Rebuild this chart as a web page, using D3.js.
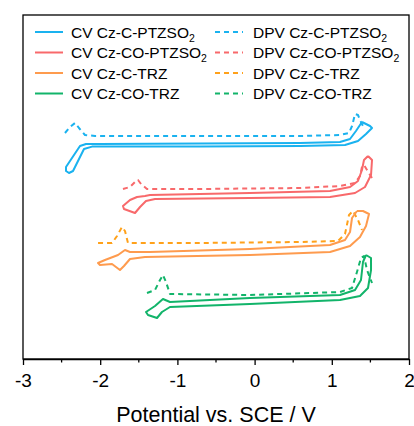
<!DOCTYPE html>
<html>
<head>
<meta charset="utf-8">
<script src="https://cdn.jsdelivr.net/npm/d3@7"></script>
<style>
  html, body { margin: 0; padding: 0; background: #fff; }
  svg { display: block; font-family: "Liberation Sans", Arial, sans-serif; }
</style>
</head>
<body>
<div id="chart"></div>
<script>
// potential (V vs SCE) / offset current (a.u.) pairs
const cvCzCPTZSO2 = [
  [1.391, 59.25], [1.313, 57.0], [1.236, 55.0], [1.106, 54.25], [0.588, 54.0], [-0.707, 53.9],
  [-2.003, 53.75], [-2.184, 53.75], [-2.262, 53.25], [-2.443, 48.0], [-2.443, 47.0], [-2.404, 46.5],
  [-2.352, 47.0], [-2.21, 52.5], [-2.106, 53.1], [-0.707, 53.1], [0.588, 53.25], [1.171, 53.5],
  [1.339, 54.5], [1.443, 56.25], [1.521, 57.75], [1.495, 58.25], [1.391, 59.25]
];
const dpvCzCPTZSO2 = [
  [-2.456, 56.5], [-2.391, 58.0], [-2.326, 59.0], [-2.275, 57.75], [-2.197, 56.0], [-2.067, 55.75],
  [-0.707, 55.75], [0.588, 55.75], [1.106, 56.0], [1.223, 56.5], [1.262, 58.25], [1.301, 61.25],
  [1.339, 61.0], [1.378, 59.25], [1.417, 57.75]
];
const cvCzCOPTZSO2 = [
  [1.469, 50.75], [1.417, 49.75], [1.391, 47.25], [1.339, 44.5], [1.236, 43.0], [0.977, 42.0],
  [-0.06, 41.5], [-1.355, 41.0], [-1.42, 40.75], [-1.523, 40.5], [-1.614, 39.75], [-1.705, 38.25],
  [-1.692, 37.5], [-1.549, 36.5], [-1.484, 38.0], [-1.407, 39.5], [-1.29, 40.0], [-0.06, 40.25],
  [0.977, 40.5], [1.301, 41.5], [1.43, 43.0], [1.508, 46.0], [1.521, 49.75], [1.469, 50.75]
];
const dpvCzCOPTZSO2 = [
  [-1.705, 42.5], [-1.614, 43.0], [-1.549, 44.25], [-1.51, 44.75], [-1.471, 43.75], [-1.394, 42.5],
  [-0.707, 42.5], [0.588, 42.75], [1.106, 43.25], [1.301, 44.0], [1.365, 45.75], [1.391, 48.0],
  [1.417, 48.5], [1.456, 47.25], [1.521, 45.25]
];
const cvCzCTRZ = [
  [1.326, 37.0], [1.262, 35.25], [1.236, 31.75], [1.171, 29.75], [0.977, 28.5], [-0.06, 27.5],
  [-1.355, 26.75], [-1.614, 26.75], [-1.679, 27.25], [-1.769, 26.0], [-1.938, 24.75], [-2.028, 24.0],
  [-2.003, 23.5], [-1.847, 23.75], [-1.744, 22.25], [-1.692, 23.25], [-1.614, 25.0], [-1.42, 25.5],
  [-0.06, 26.0], [0.977, 26.75], [1.236, 28.25], [1.365, 30.5], [1.443, 33.25], [1.482, 36.25],
  [1.404, 37.0], [1.326, 37.0]
];
const dpvCzCTRZ = [
  [-2.028, 29.0], [-1.847, 29.0], [-1.782, 30.75], [-1.718, 33.0], [-1.679, 32.0], [-1.64, 29.0],
  [-0.707, 29.0], [0.588, 29.25], [1.08, 29.5], [1.171, 31.25], [1.223, 36.0], [1.275, 37.0],
  [1.339, 34.75], [1.391, 32.25]
];
const cvCzCOTRZ = [
  [1.443, 26.0], [1.404, 24.25], [1.378, 19.75], [1.301, 17.25], [1.106, 16.0], [-0.06, 15.25],
  [-1.096, 14.25], [-1.187, 15.0], [-1.29, 13.25], [-1.407, 11.75], [-1.381, 11.0], [-1.264, 10.25],
  [-1.2, 11.75], [-1.096, 13.0], [-0.06, 13.75], [1.106, 14.75], [1.365, 15.75], [1.469, 17.75],
  [1.508, 22.25], [1.508, 25.25], [1.443, 26.0]
];
const dpvCzCOTRZ = [
  [-1.394, 16.5], [-1.29, 17.25], [-1.225, 19.75], [-1.187, 21.0], [-1.148, 19.25], [-1.096, 16.25],
  [-0.06, 16.0], [1.106, 16.75], [1.262, 17.75], [1.326, 21.75], [1.378, 25.25], [1.417, 25.75],
  [1.456, 22.25], [1.521, 19.0]
];

const seriesNames = ["Cz-C-PTZSO2", "Cz-CO-PTZSO2", "Cz-C-TRZ", "Cz-CO-TRZ"];
const cvSeries = [cvCzCPTZSO2, cvCzCOPTZSO2, cvCzCTRZ, cvCzCOTRZ];
const dpvSeries = [dpvCzCPTZSO2, dpvCzCOPTZSO2, dpvCzCTRZ, dpvCzCOTRZ];
const cvColors = ["#1ab2ef", "#f8696b", "#fe9b4e", "#12b46a"];
const dpvColors = ["#1ab2ef", "#f8696b", "#ffa11a", "#12b46a"];

const xTicks = [-3, -2, -1, 0, 1, 2];
const xMinorTicks = [-2.5, -1.5, -0.5, 0.5, 1.5];

const width = 414, height = 426;
const margin = { top: 15, right: 5, bottom: 67, left: 23 };

const svg = d3.select("#chart").append("svg")
  .attr("width", width)
  .attr("height", height);

const x = d3.scaleLinear().domain([-3, 2]).range([margin.left, width - margin.right]);
const y = d3.scaleLinear().domain([0, 86]).range([height - margin.bottom, margin.top]);

const line = d3.line().x(d => x(d[0])).y(d => y(d[1]));

// curves
dpvSeries.forEach((s, i) => {
  svg.append("path")
    .attr("d", line(s))
    .attr("fill", "none")
    .attr("stroke", dpvColors[i])
    .attr("stroke-width", 2)
    .attr("stroke-linejoin", "round")
    .attr("stroke-dasharray", "5,4");
});
cvSeries.forEach((s, i) => {
  svg.append("path")
    .attr("d", line(s))
    .attr("fill", "none")
    .attr("stroke", cvColors[i])
    .attr("stroke-width", 2)
    .attr("stroke-linejoin", "round");
});

// frame
svg.append("rect")
  .attr("x", margin.left)
  .attr("y", margin.top)
  .attr("width", width - margin.left - margin.right)
  .attr("height", height - margin.top - margin.bottom)
  .attr("fill", "none")
  .attr("stroke", "#000")
  .attr("stroke-width", 1.3);

// x axis
const xAxis = svg.append("g")
  .attr("transform", `translate(0,${height - margin.bottom})`)
  .call(d3.axisBottom(x).tickValues(xTicks).tickSize(6).tickSizeOuter(0).tickPadding(9).tickFormat(d3.format("d")));
xAxis.select(".domain").attr("stroke-width", 1.3);
xAxis.selectAll(".tick line").attr("stroke-width", 1.3);
xAxis.selectAll(".tick text").attr("font-size", 19).attr("fill", "#000")
  .attr("font-family", "Liberation Sans, Arial, sans-serif")
  .text(d => d < 0 ? "-" + Math.abs(d) : d);

svg.append("g")
  .attr("transform", `translate(0,${height - margin.bottom})`)
  .selectAll("line")
  .data(xMinorTicks)
  .join("line")
  .attr("x1", d => x(d)).attr("x2", d => x(d))
  .attr("y1", 0).attr("y2", 3.5)
  .attr("stroke", "#000").attr("stroke-width", 1.3);

svg.append("text")
  .attr("x", (margin.left + width - margin.right) / 2)
  .attr("y", 422)
  .attr("text-anchor", "middle")
  .attr("font-size", 21.5)
  .attr("fill", "#000")
  .text("Potential vs. SCE / V");

// legend
const legend = svg.append("g").attr("font-size", 15.5).attr("fill", "#000");
const rowY = [32, 52.5, 73, 93.5];
const cols = [
  { lx: 35, tx: 71, prefix: "CV ", colors: cvColors, dash: null },
  { lx: 215, tx: 253, prefix: "DPV ", colors: dpvColors, dash: "5,4" }
];
cols.forEach(c => {
  seriesNames.forEach((name, i) => {
    legend.append("line")
      .attr("x1", c.lx).attr("x2", c.lx + 28)
      .attr("y1", rowY[i]).attr("y2", rowY[i])
      .attr("stroke", c.colors[i]).attr("stroke-width", 2)
      .attr("stroke-dasharray", c.dash);
    const t = legend.append("text")
      .attr("x", c.tx).attr("y", rowY[i] + 5.5);
    const m = name.match(/^(.*SO)2$/);
    if (m) {
      t.append("tspan").text(c.prefix + m[1]);
      t.append("tspan").attr("font-size", 10.5).attr("dy", 4).text("2");
    } else {
      t.text(c.prefix + name);
    }
  });
});
</script>
</body>
</html>
